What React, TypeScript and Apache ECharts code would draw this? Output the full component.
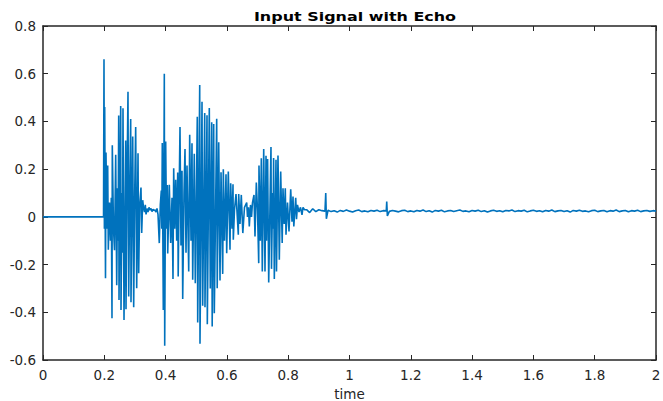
import React, { useEffect, useRef } from "react";
import * as echarts from "echarts";

const TITLE = "Input Signal with Echo";
const X_NAME = "time";

// [time, amplitude] pairs
const SILENCE: [number, number][] = [
  [0, 0],
  [0.1975, 0],
];

const BURST1: [number, number][] = [
  [0.199, 0.661], [0.2003, -0.05], [0.2013, 0.46], [0.2039, -0.257], [0.2055, 0.27],
  [0.2088, -0.05], [0.2111, 0.215], [0.2131, -0.138], [0.217, 0.06], [0.2202, -0.1],
  [0.2228, 0.08], [0.2251, -0.425], [0.2261, 0.3], [0.23, -0.05], [0.2333, -0.14],
  [0.2372, 0.26], [0.2405, -0.287], [0.2431, 0.12], [0.245, -0.1], [0.247, 0.425],
  [0.248, -0.348], [0.2535, 0.465], [0.2545, -0.39], [0.2577, 0.1], [0.2594, -0.15],
  [0.261, 0.455], [0.2643, -0.432], [0.2698, 0.32], [0.2708, -0.387], [0.2741, 0.15],
  [0.2773, 0.524], [0.2796, -0.334], [0.2829, 0.12], [0.2861, 0.41], [0.2871, -0.358],
  [0.2927, 0.337], [0.2959, -0.379], [0.2992, 0.1], [0.3024, 0.377], [0.3057, -0.299],
  [0.31, 0.267], [0.3122, -0.236], [0.3155, 0.05], [0.3197, 0.123], [0.322, -0.068],
  [0.3253, 0.07],
];

const GAP1: [number, number][] = [
  [0.3279, 0.04], [0.3312, 0.02], [0.3338, 0.05], [0.3361, 0.01], [0.3393, 0.035],
  [0.3426, 0.02], [0.3458, 0.04], [0.3491, 0.028], [0.3524, 0.035], [0.3556, 0.022],
  [0.3589, 0.032], [0.3622, 0.026], [0.3654, 0.03],
];

const BURST2: [number, number][] = [
  [0.3687, 0.02], [0.3719, 0.035], [0.3752, 0.01], [0.3794, -0.11], [0.3827, 0.05],
  [0.386, 0.11], [0.3876, -0.05], [0.3892, 0.31], [0.3925, -0.39], [0.3958, 0.6],
  [0.3971, -0.54], [0.4003, 0.316], [0.4029, -0.05], [0.4055, 0.134], [0.4069, -0.154],
  [0.4121, 0.134], [0.4166, -0.11], [0.4209, 0.08], [0.4241, -0.26], [0.4264, 0.204],
  [0.4297, -0.05], [0.433, 0.155], [0.4362, -0.1], [0.4395, 0.186], [0.4411, -0.25],
  [0.4437, 0.05], [0.447, 0.377], [0.4502, -0.12], [0.4535, 0.193], [0.4558, -0.344],
  [0.46, 0.1], [0.4633, 0.284], [0.4666, -0.15], [0.4698, 0.215], [0.4754, -0.229],
  [0.4786, 0.344], [0.4829, -0.1], [0.4861, 0.309], [0.4884, -0.264], [0.4936, 0.264],
  [0.4969, -0.278], [0.5034, 0.42], [0.5047, -0.443], [0.5113, 0.553], [0.5122, -0.532],
  [0.5188, 0.482], [0.521, -0.373], [0.5276, 0.435], [0.5285, -0.379], [0.5351, 0.426],
  [0.5361, -0.45], [0.5426, 0.456], [0.5458, -0.3], [0.5504, 0.397], [0.552, -0.46],
  [0.5569, 0.389], [0.5589, -0.404], [0.5667, 0.411], [0.5684, -0.299], [0.5733, 0.313],
  [0.5775, -0.267], [0.5808, 0.187], [0.5863, -0.239], [0.5883, 0.2], [0.5922, -0.1],
  [0.5971, 0.179], [0.5993, -0.152], [0.6046, 0.19], [0.6101, -0.138], [0.6124, 0.141],
  [0.6166, -0.05], [0.6199, 0.137], [0.6209, -0.096], [0.6248, 0.03], [0.6297, 0.096],
  [0.6372, -0.075], [0.6385, 0.096], [0.6427, -0.03], [0.647, 0.092], [0.6519, -0.068],
  [0.6574, 0.04], [0.6646, 0.06], [0.6672, 0.0], [0.6705, 0.04], [0.6731, -0.04],
  [0.677, 0.05], [0.6803, 0.0], [0.6835, 0.06],
];

const BURST3: [number, number][] = [
  [0.6884, 0.092], [0.6917, -0.082], [0.696, 0.144], [0.6998, 0.03], [0.7038, -0.194],
  [0.7047, 0.215], [0.709, -0.1], [0.7123, 0.246], [0.7155, -0.229], [0.7201, 0.284],
  [0.7243, -0.229], [0.7276, 0.256], [0.7292, -0.1], [0.7328, 0.242], [0.7364, -0.275],
  [0.7438, 0.293], [0.7455, -0.218], [0.7491, 0.1], [0.7508, -0.05], [0.7524, 0.247],
  [0.7547, -0.26], [0.7602, 0.239], [0.7618, -0.229], [0.7667, 0.257], [0.771, -0.18],
  [0.7755, 0.19], [0.7804, -0.11], [0.783, 0.12], [0.7869, -0.03], [0.7905, 0.12],
  [0.7928, -0.075], [0.7977, 0.06], [0.8026, -0.061], [0.8082, 0.116], [0.8124, -0.02],
  [0.8157, 0.085], [0.8183, -0.04], [0.8245, 0.08], [0.8271, -0.01], [0.8303, 0.05],
  [0.8352, 0.02], [0.8401, 0.04], [0.845, 0.008], [0.8483, 0.04], [0.8532, 0.03],
];

// residual echo, sampled every 10 ms from 0.86 s
const TAIL_START = 0.86;
const TAIL_STEP = 0.01;
const TAIL_VALUES: number[] = [
  0.03, 0.018, 0.034, 0.022, 0.03, 0.026,
  0.024,
  0.028, 0.022, 0.026, 0.02, 0.027, 0.023, 0.029,
  0.024, 0.02, 0.026, 0.029, 0.022, 0.025, 0.021, 0.027, 0.024, 0.028,
  0.022, 0.026, 0.025, 0.023, 0.027, 0.024, 0.021, 0.026, 0.028, 0.022,
  0.025, 0.021, 0.027, 0.024, 0.029, 0.022, 0.026, 0.02, 0.027, 0.024,
  0.028, 0.021, 0.025, 0.027, 0.022, 0.026, 0.029, 0.023, 0.025, 0.021,
  0.027, 0.024, 0.028, 0.022, 0.026, 0.02, 0.025, 0.028, 0.023, 0.026,
  0.021, 0.027, 0.025, 0.029, 0.022, 0.026, 0.024, 0.028, 0.021, 0.025,
  0.028, 0.023, 0.026, 0.021, 0.027, 0.024, 0.029, 0.022, 0.025, 0.027,
  0.022, 0.026, 0.02, 0.027, 0.024, 0.028, 0.023, 0.025, 0.021, 0.026,
  0.028, 0.022, 0.025, 0.027, 0.021, 0.026, 0.024, 0.029, 0.022, 0.025,
  0.027, 0.021, 0.026, 0.024, 0.028, 0.022, 0.025, 0.027, 0.023, 0.026, 0.024,
];

const SPIKES: [number, number][] = [
  [0.9225, 0.1], [0.9245, -0.008],
  [1.1215, 0.064], [1.1235, 0.004],
];

const X_MIN = 0;
const X_MAX = 2;
const X_STEP = 0.2;
const Y_MIN = -0.6;
const Y_MAX = 0.8;
const Y_STEP = 0.2;

const LINE_COLOR = "#0072BD";
const AXIS_COLOR = "#262626";
const FONT = "DejaVu Sans";

function buildSignal(): [number, number][] {
  const tail: [number, number][] = TAIL_VALUES.map((v, i) => [
    +(TAIL_START + i * TAIL_STEP).toFixed(4),
    v,
  ]);
  const all = [...SILENCE, ...BURST1, ...GAP1, ...BURST2, ...BURST3, ...tail, ...SPIKES];
  return all.sort((a, b) => a[0] - b[0]);
}

export default function App() {
  const ref = useRef<HTMLDivElement>(null);

  useEffect(() => {
    if (!ref.current) return;
    const chart = echarts.init(ref.current, undefined, { renderer: "svg" });

    const axisLine = { show: true, onZero: false, lineStyle: { color: AXIS_COLOR, width: 1.5 } };
    const axisTick = { show: true, inside: true, length: 5, lineStyle: { color: AXIS_COLOR, width: 1 } };
    const label = { color: AXIS_COLOR, fontSize: 13.5, fontFamily: FONT };

    chart.setOption({
      animation: false,
      backgroundColor: "#ffffff",
      grid: {
        left: 43,
        right: 7,
        top: 26,
        bottom: 41,
        containLabel: false,
        outerBoundsMode: "none",
      },
      graphic: [
        {
          type: "text",
          x: 355,
          y: 16.5,
          scaleX: 1.33,
          style: {
            text: TITLE,
            textAlign: "center",
            textVerticalAlign: "middle",
            fontFamily: FONT,
            fontWeight: "bold",
            fontSize: 12,
            fill: "#000000",
          },
        },
      ],
      xAxis: [
        {
          type: "value",
          position: "bottom",
          min: X_MIN,
          max: X_MAX,
          interval: X_STEP,
          axisLine,
          axisTick,
          axisLabel: { ...label, margin: 8 },
          splitLine: { show: false },
          name: X_NAME,
          nameLocation: "middle",
          nameGap: 25,
          nameTextStyle: { ...label },
        },
        {
          type: "value",
          position: "top",
          min: X_MIN,
          max: X_MAX,
          interval: X_STEP,
          axisLine,
          axisTick,
          axisLabel: { show: false },
          splitLine: { show: false },
        },
      ],
      yAxis: [
        {
          type: "value",
          position: "left",
          min: Y_MIN,
          max: Y_MAX,
          interval: Y_STEP,
          axisLine,
          axisTick,
          axisLabel: { ...label, margin: 7 },
          splitLine: { show: false },
        },
        {
          type: "value",
          position: "right",
          min: Y_MIN,
          max: Y_MAX,
          interval: Y_STEP,
          axisLine,
          axisTick,
          axisLabel: { show: false },
          splitLine: { show: false },
        },
      ],
      series: [
        {
          type: "line",
          xAxisIndex: 0,
          yAxisIndex: 0,
          data: buildSignal(),
          showSymbol: false,
          symbol: "none",
          lineStyle: { color: LINE_COLOR, width: 1.6 },
          clip: true,
        },
      ],
    });

    return () => chart.dispose();
  }, []);

  return (
    <div
      ref={ref}
      style={{ position: "absolute", left: 0, top: 0, width: 663, height: 401 }}
    />
  );
}
